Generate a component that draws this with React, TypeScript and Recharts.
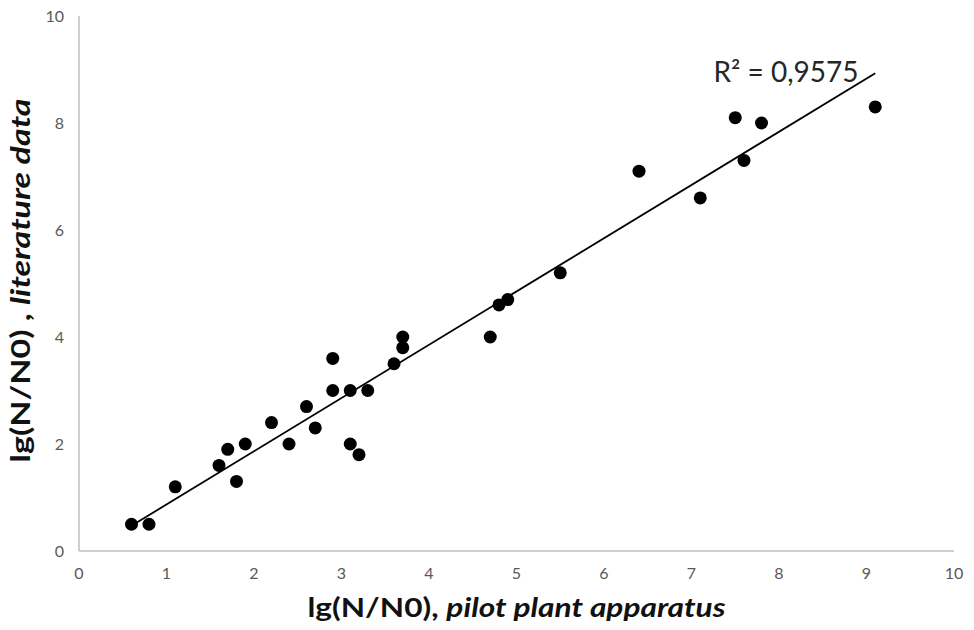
import React from "react";
import {
  ScatterChart,
  Scatter,
  XAxis,
  YAxis,
  ReferenceLine,
  ReferenceDot,
  Label,
} from "recharts";

if (typeof document !== "undefined") document.body.style.margin = "0";

// ─── Data ────────────────────────────────────────────────────────────────────
const pilotPlant = [
  0.6, 0.8, 1.1, 1.6, 1.7, 1.8, 1.9, 2.2, 2.4, 2.6, 2.7, 2.9, 2.9, 3.1, 3.1,
  3.2, 3.3, 3.6, 3.7, 3.7, 4.7, 4.8, 4.9, 5.5, 6.4, 7.1, 7.5, 7.6, 7.8, 9.1,
];
const literature = [
  0.5, 0.5, 1.2, 1.6, 1.9, 1.3, 2.0, 2.4, 2.0, 2.7, 2.3, 3.6, 3.0, 3.0, 2.0,
  1.8, 3.0, 3.5, 4.0, 3.8, 4.0, 4.6, 4.7, 5.2, 7.1, 6.6, 8.1, 7.3, 8.0, 8.3,
];
const xTicks = [0, 1, 2, 3, 4, 5, 6, 7, 8, 9, 10];
const yTicks = [0, 2, 4, 6, 8, 10];
const r2Text = "R² = 0,9575";

const points = pilotPlant.map((x, i) => ({ x, y: literature[i] }));

// least squares trend line, like the spreadsheet's linear trendline
const n = points.length;
const mx = pilotPlant.reduce((a, b) => a + b, 0) / n;
const my = literature.reduce((a, b) => a + b, 0) / n;
const sxy = points.reduce((a, p) => a + (p.x - mx) * (p.y - my), 0);
const sxx = points.reduce((a, p) => a + (p.x - mx) ** 2, 0);
const slope = sxy / sxx;
const intercept = my - slope * mx;
const xMin = Math.min(...pilotPlant);
const xMax = Math.max(...pilotPlant);

const FONT = "Lato, 'Open Sans', sans-serif";
const AXIS = "#bfbfbf";

function XTitle(props: any) {
  const { viewBox } = props;
  const cx = viewBox.x + viewBox.width / 2;
  return (
    <text
      x={cx}
      y={617}
      textAnchor="middle"
      fontFamily={FONT}
      fontSize={27}
      fontWeight={700}
      fill="#111"
      textLength={418}
      lengthAdjust="spacingAndGlyphs"
    >
      <tspan>lg(N/N0), </tspan>
      <tspan fontStyle="italic">pilot plant apparatus</tspan>
    </text>
  );
}

function YTitle(props: any) {
  const { viewBox } = props;
  const cy = viewBox.y + viewBox.height / 2 - 3;
  const cx = 30;
  return (
    <text
      x={cx}
      y={cy}
      transform={`rotate(-90, ${cx}, ${cy})`}
      textAnchor="middle"
      fontFamily={FONT}
      fontSize={27}
      fontWeight={700}
      fill="#111"
      textLength={364}
      lengthAdjust="spacingAndGlyphs"
    >
      <tspan>lg(N/N0) , </tspan>
      <tspan fontStyle="italic">literature data</tspan>
    </text>
  );
}

const Dot = (p: any) => <circle cx={p.cx} cy={p.cy} r={6.5} fill="#000" />;

export default function App() {
  return (
    <ScatterChart width={974} height={630} margin={{ top: 16, right: 20, bottom: 0, left: 19 }}>
      <XAxis
        type="number"
        dataKey="x"
        domain={[0, 10]}
        ticks={xTicks}
        interval={0}
        tickLine={false}
        axisLine={{ stroke: AXIS, strokeWidth: 1.5 }}
        tickMargin={11}
        tick={{ fill: "#595959", fontSize: 16, fontFamily: FONT }}
        height={79}
      >
        <Label content={XTitle} />
      </XAxis>
      <YAxis
        type="number"
        dataKey="y"
        domain={[0, 10]}
        ticks={yTicks}
        interval={0}
        tickLine={false}
        axisLine={{ stroke: AXIS, strokeWidth: 1.5 }}
        tickMargin={9}
        tick={{ fill: "#595959", fontSize: 16, fontFamily: FONT }}
        width={60}
      >
        <Label content={YTitle} />
      </YAxis>
      <ReferenceLine
        segment={[
          { x: xMin, y: intercept + slope * xMin },
          { x: xMax, y: intercept + slope * xMax },
        ]}
        stroke="#000"
        strokeWidth={1.8}
        ifOverflow="visible"
      />
      <Scatter data={points} fill="#000" shape={Dot} isAnimationActive={false} />
      <ReferenceDot
        x={8.08}
        y={8.95}
        r={0}
        fill="none"
        stroke="none"
        ifOverflow="visible"
        label={{ value: r2Text, position: "center", fill: "#262626", fontSize: 28, fontFamily: FONT }}
      />
    </ScatterChart>
  );
}
